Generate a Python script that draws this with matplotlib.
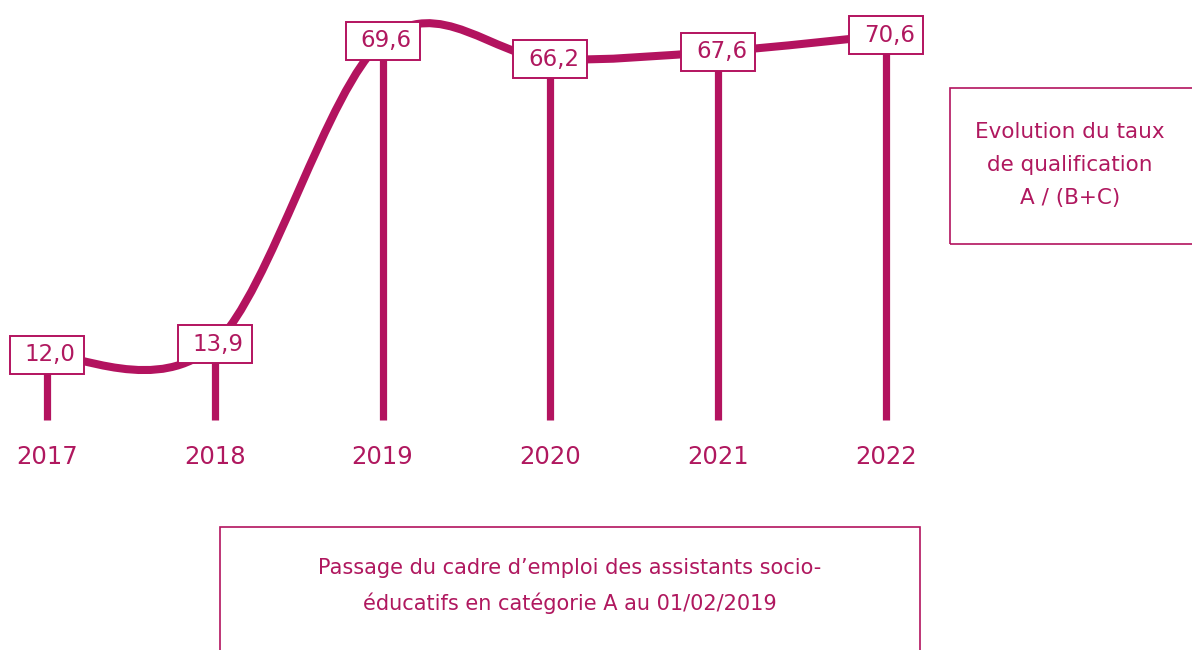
import matplotlib.pyplot as plt
from matplotlib.path import Path
from matplotlib.patches import PathPatch, Rectangle

# Données
annees = [2017, 2018, 2019, 2020, 2021, 2022]
taux = [12.0, 13.9, 69.6, 66.2, 67.6, 70.6]
etiquettes = ["12,0", "13,9", "69,6", "66,2", "67,6", "70,6"]

titre_droite = "Evolution du taux\nde qualification\nA / (B+C)"
note_bas = "Passage du cadre d’emploi des assistants socio-\néducatifs en catégorie A au 01/02/2019"

couleur = "#B3135F"
texte = "#B0185F"
plt.rcParams["font.family"] = ["DejaVu Sans"]


def courbe_lissee(xs, ys):
    # courbe lissée type tableur (Bézier à partir des points)
    n = len(xs)
    verts = [(xs[0], ys[0])]
    codes = [Path.MOVETO]
    for i in range(n - 1):
        i0 = max(i - 1, 0)
        i3 = min(i + 2, n - 1)
        c1 = (xs[i] + (xs[i + 1] - xs[i0]) / 6, ys[i] + (ys[i + 1] - ys[i0]) / 6)
        c2 = (xs[i + 1] - (xs[i3] - xs[i]) / 6, ys[i + 1] - (ys[i3] - ys[i]) / 6)
        verts += [c1, c2, (xs[i + 1], ys[i + 1])]
        codes += [Path.CURVE4] * 3
    return Path(verts, codes)


fig = plt.figure(figsize=(11.92, 6.5), dpi=100)
ax = fig.add_axes([0, 0, 1, 1])
ax.set_xlim(2016.72, 2023.824)
ax.set_ylim(-42.2, 77.06)
ax.axis("off")

# lignes verticales
ax.vlines(annees, 0, taux, color=couleur, lw=5.2, zorder=1)

# courbe
ax.add_patch(PathPatch(courbe_lissee(annees, taux), fill=False, ec=couleur,
                       lw=5.8, capstyle="round", zorder=2))

# étiquettes de valeurs (cadre 74 x 38 px)
lb, hb = 74 / 167.8, 38 / 5.45
for x, y, lab in zip(annees, taux, etiquettes):
    ax.add_patch(Rectangle((x - lb / 2, y - hb / 2), lb, hb, fc="white", ec=couleur,
                           lw=1.4, zorder=3))
    ax.text(x + 0.02, y, lab, ha="center", va="center", fontsize=16.5, color=texte, zorder=4)

# années
for x in annees:
    ax.text(x, -6.7, str(x), ha="center", va="center", fontsize=17.5, color=texte)

# encadré droite
fig.patches.append(Rectangle((950, 650 - 244), 260, 156, transform=None,
                             fill=False, ec=couleur, lw=1.2))
fig.text(1070 / 1192, 1 - 165 / 650, titre_droite, ha="center", va="center",
         fontsize=15.5, color=texte, linespacing=1.8)

# encadré bas
fig.patches.append(Rectangle((220, -20), 700, 650 - 527 + 20, transform=None,
                             fill=False, ec=couleur, lw=1.2))
fig.text(570 / 1192, 1 - 586 / 650, note_bas, ha="center", va="center",
         fontsize=15, color=texte, linespacing=1.85)

fig.savefig("out.png", dpi=100)
